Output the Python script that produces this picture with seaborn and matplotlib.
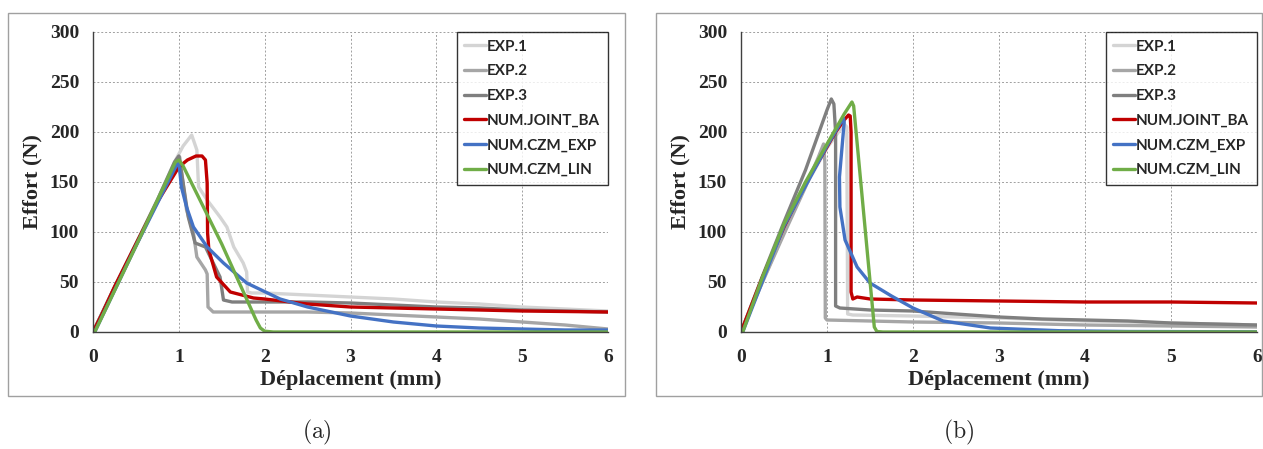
import matplotlib
matplotlib.use("Agg")
import matplotlib.pyplot as plt
import matplotlib.patches as patches
import seaborn as sns

# ---- data, panel (a) ----
a_exp1_x = [0, 0.25, 0.5, 0.75, 0.95, 1.05, 1.15, 1.21, 1.23, 1.33, 1.48, 1.56, 1.64, 1.75, 1.79, 1.80, 1.85, 2.0, 2.5, 3.0, 3.5, 4.0, 4.5, 5.0, 5.5, 6.0]
a_exp1_y = [0, 44, 88, 132, 170, 186, 197, 182, 145, 132, 115, 105, 85, 69, 60, 40, 39, 39, 37, 35, 33, 30, 28, 25, 23, 21]
a_exp2_x = [0, 0.25, 0.5, 0.75, 0.95, 1.01, 1.09, 1.17, 1.21, 1.31, 1.33, 1.34, 1.40, 2.0, 2.5, 3.0, 3.5, 4.0, 4.5, 5.0, 5.5, 6.0]
a_exp2_y = [0, 44, 86, 130, 168, 175, 122, 99, 75, 62, 58, 25, 20, 20, 20, 19, 17, 15, 13, 10, 7, 3]
a_exp3_x = [0, 0.25, 0.5, 0.75, 0.95, 1.0, 1.05, 1.11, 1.19, 1.31, 1.48, 1.52, 1.62, 2.0, 2.5, 3.0, 3.5, 4.0, 4.5, 5.0, 5.5, 6.0]
a_exp3_y = [0, 45, 88, 132, 170, 176, 149, 115, 89, 85, 55, 32, 30, 30, 30, 29, 27, 25, 24, 22, 21, 20]
a_joint_x = [0, 0.1, 0.25, 0.5, 0.75, 1.0, 1.1, 1.2, 1.27, 1.31, 1.33, 1.335, 1.35, 1.44, 1.6, 1.87, 2.0, 2.5, 3.0, 3.5, 4.0, 5.0, 6.0]
a_joint_y = [0, 17, 45, 88, 130, 165, 172, 176, 176, 172, 149, 99, 82, 55, 40, 34, 33, 28, 25, 24, 23, 21, 20]
a_czmexp_x = [0.02, 0.5, 0.98, 1.0, 1.03, 1.09, 1.17, 1.33, 1.52, 1.79, 2.18, 2.5, 3.0, 3.5, 4.0, 4.5, 5.0, 5.5, 6.0]
a_czmexp_y = [0, 86, 168, 170, 145, 125, 105, 85, 69, 49, 33, 25, 16, 10, 6, 4, 3, 2, 2]
a_czmlin_x = [0.02, 0.5, 0.96, 1.0, 1.05, 1.5, 1.9, 1.95, 2.0, 2.1, 3.0, 4.0, 5.0, 6.0]
a_czmlin_y = [0, 86, 170, 172, 166, 88, 12, 4, 0.8, 0, 0, 0, 0, 0]

# ---- panel (b) ----
b_exp1_x = [0, 0.25, 0.5, 0.75, 1.0, 1.2, 1.23, 1.24, 1.3, 2.0, 3.0, 4.0, 5.0, 6.0]
b_exp1_y = [0, 50, 100, 146, 184, 208, 205, 18, 17, 16, 14, 11, 9, 7]
b_exp2_x = [0, 0.25, 0.5, 0.75, 0.9, 0.96, 0.975, 0.98, 1.0, 1.5, 2.0, 3.0, 4.0, 5.0, 6.0]
b_exp2_y = [0, 50, 98, 145, 175, 188, 170, 14, 12, 11, 10, 9, 7, 6, 5]
b_exp3_x = [0, 0.25, 0.5, 0.75, 0.9, 1.0, 1.05, 1.08, 1.10, 1.10, 1.15, 1.5, 2.0, 2.5, 3.0, 3.5, 4.0, 4.5, 5.0, 5.5, 6.0]
b_exp3_y = [0, 56, 110, 162, 198, 222, 233, 228, 200, 26, 24, 22, 21, 18, 15, 13, 12, 11, 9, 8, 7]
b_joint_x = [0, 0.25, 0.5, 0.75, 1.0, 1.1, 1.2, 1.25, 1.27, 1.28, 1.28, 1.3, 1.35, 1.5, 2.0, 3.0, 4.0, 5.0, 6.0]
b_joint_y = [0, 55, 105, 148, 185, 200, 212, 217, 216, 200, 40, 33, 35, 33, 32, 31, 30, 30, 29]
b_czmexp_x = [0.02, 0.5, 1.0, 1.15, 1.19, 1.2, 1.17, 1.145, 1.15, 1.21, 1.35, 1.5, 1.75, 2.0, 2.35, 2.9, 3.7, 4.5, 6.0]
b_czmexp_y = [0, 106, 186, 208, 214, 210, 180, 155, 125, 92, 65, 49, 36, 24, 11, 4, 1.3, 0.5, 0.2]
b_czmlin_x = [0.02, 0.25, 0.5, 0.75, 1.0, 1.2, 1.29, 1.31, 1.55, 1.58, 1.65, 3.0, 6.0]
b_czmlin_y = [0, 55, 108, 150, 188, 218, 230, 226, 5, 0.5, 0, 0, 0]

labels = ["EXP.1", "EXP.2", "EXP.3", "NUM.JOINT_BA", "NUM.CZM_EXP", "NUM.CZM_LIN"]
colors = ["#d4d4d4", "#a6a6a6", "#7f7f7f", "#c00000", "#4472c4", "#70ad47"]

panels = [
    [(a_exp1_x, a_exp1_y), (a_exp2_x, a_exp2_y), (a_exp3_x, a_exp3_y),
     (a_joint_x, a_joint_y), (a_czmexp_x, a_czmexp_y), (a_czmlin_x, a_czmlin_y)],
    [(b_exp1_x, b_exp1_y), (b_exp2_x, b_exp2_y), (b_exp3_x, b_exp3_y),
     (b_joint_x, b_joint_y), (b_czmexp_x, b_czmexp_y), (b_czmlin_x, b_czmlin_y)],
]
captions = ["(a)", "(b)"]

sns.set_style("white")
plt.rcParams["mathtext.fontset"] = "cm"
serif = "Liberation Serif"

W, H = 1263, 449
fig = plt.figure(figsize=(W / 100, H / 100), dpi=100)

# panel frames and axes positions in pixels
frames = [(8, 13, 625, 396), (656, 13, 1262, 396)]
axes_px = [(93, 32, 608, 332), (741, 32, 1257, 332)]

for i, series in enumerate(panels):
    fx0, fy0, fx1, fy1 = frames[i]
    fig.patches.append(patches.Rectangle((fx0 / W, 1 - fy1 / H), (fx1 - fx0) / W, (fy1 - fy0) / H,
                                         transform=fig.transFigure, fill=False,
                                         edgecolor="#a0a0a0", lw=1.0))
    x0, y0, x1, y1 = axes_px[i]
    ax = fig.add_axes([x0 / W, 1 - y1 / H, (x1 - x0) / W, (y1 - y0) / H])

    for (xs, ys), lab, col in zip(series, labels, colors):
        sns.lineplot(x=xs, y=ys, sort=False, estimator=None, color=col, lw=2.4,
                     label=lab, ax=ax)

    ax.set_xlim(0, 6)
    ax.set_ylim(0, 300)
    ax.set_xticks(range(0, 7))
    ax.set_yticks(range(0, 301, 50))
    ax.set_axisbelow(True)
    ax.grid(True, color="#a0a0a0", ls=(0, (2, 2)), lw=0.7)
    for s in ["top", "right"]:
        ax.spines[s].set_visible(False)
    for s in ["left", "bottom"]:
        ax.spines[s].set_color("#404040")
        ax.spines[s].set_linewidth(1.0)
    ax.tick_params(direction="out", length=5, width=1, color="#404040", pad=5)
    ax.tick_params(axis="x", pad=7)
    for t in ax.get_xticklabels() + ax.get_yticklabels():
        t.set_fontfamily(serif)
        t.set_fontweight("bold")
        t.set_fontsize(14)
    ax.set_xlabel("Déplacement (mm)", fontfamily=serif, fontweight="bold", fontsize=16, labelpad=3)
    ax.set_ylabel("Effort (N)", fontfamily=serif, fontweight="bold", fontsize=16, labelpad=5)

    leg = ax.legend(loc="upper right", bbox_to_anchor=(1, 1), borderaxespad=0,
                    fancybox=False, frameon=True, handlelength=1.4, handletextpad=0.1,
                    labelspacing=0.7, borderpad=0.5,
                    prop={"family": "Lato", "weight": "bold", "size": 11})
    leg.get_frame().set_edgecolor("black")
    leg.get_frame().set_linewidth(1.0)
    for ln in leg.get_lines():
        ln.set_linewidth(2.4)

    cx = (fx0 + fx1) / 2 / W
    fig.text(cx, 1 - 432 / H, r"$\mathrm{" + captions[i] + "}$", ha="center", va="center", fontsize=17)

fig.savefig("out.png", dpi=100)
